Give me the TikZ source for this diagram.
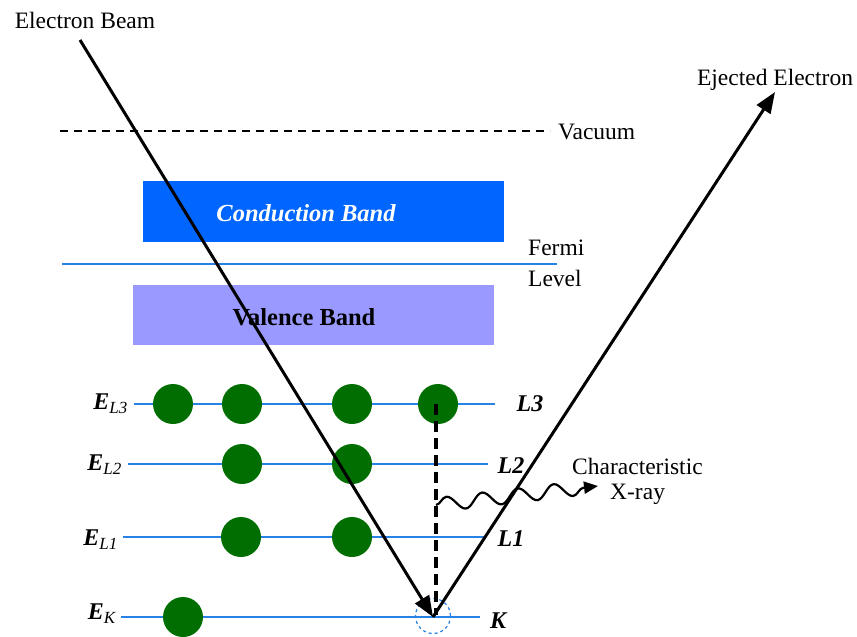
\documentclass[tikz,border=0pt]{standalone}
\usepackage{fontspec}
\setmainfont{Liberation Serif}
\usetikzlibrary{arrows.meta,decorations.pathmorphing}
\definecolor{condblue}{RGB}{0,102,255}
\definecolor{valblue}{RGB}{153,153,255}
\definecolor{lvlblue}{RGB}{40,130,230}
\definecolor{egreen}{RGB}{0,110,0}
\tikzset{
  txt/.style={font=\fontsize{23.5}{26}\selectfont, inner sep=0pt},
  lbl/.style={font=\fontsize{24}{26}\selectfont\bfseries\itshape, inner sep=0pt},
  level/.style={draw=lvlblue, line width=1.5pt},
  electron/.style={circle, fill=egreen, minimum size=40pt, inner sep=0pt},
  band/.style={inner sep=0pt, anchor=north west},
  ray/.style={line width=3pt, -{Triangle[length=21pt,width=16pt]}},
}
\begin{document}
\begin{tikzpicture}[x=1pt,y=-1pt]
\useasboundingbox (0,0) rectangle (857,637);
% bands
\node[band, fill=condblue, minimum width=361pt, minimum height=61pt] (cb) at (143,181) {};
\node[font=\fontsize{24.5}{26}\selectfont\bfseries\itshape, text=white] (cbt) at (306,213) {Conduction Band};
\node[band, fill=valblue, minimum width=361pt, minimum height=60pt] (vb) at (133,285) {};
\node[font=\fontsize{24.5}{26}\selectfont\bfseries] (vbt) at (304,317) {Valence Band};
% vacuum and Fermi
\coordinate (vacL) at (60,131);
\coordinate (vacR) at (550,131);
\draw[black, line width=2pt, dash pattern=on 8pt off 6pt] (vacL) -- (vacR);
\node[txt, anchor=west] (vac) at (558,132) {Vacuum};
\coordinate (ferL) at (62,264);
\coordinate (ferR) at (557,264);
\draw[level] (ferL) -- (ferR);
\node[txt, anchor=west] (fermi) at (528,248) {Fermi};
\node[txt, anchor=west] (flevel) at (528,278) {Level};
% levels
\coordinate (l3a) at (134,404); \coordinate (l3b) at (495,404);
\coordinate (l2a) at (128,464); \coordinate (l2b) at (488,464);
\coordinate (l1a) at (123,537); \coordinate (l1b) at (485,537);
\coordinate (ka) at (121,617);  \coordinate (kb) at (480,617);
\draw[level] (l3a) -- (l3b);
\draw[level] (l2a) -- (l2b);
\draw[level] (l1a) -- (l1b);
\draw[level] (ka) -- (kb);
\node[lbl, anchor=east] (el3) at (128,404) {E\textsubscript{\normalfont\itshape\fontsize{17}{18}\selectfont L3}};
\node[lbl, anchor=east] (el2) at (122,465) {E\textsubscript{\normalfont\itshape\fontsize{17}{18}\selectfont L2}};
\node[lbl, anchor=east] (el1) at (118,540) {E\textsubscript{\normalfont\itshape\fontsize{17}{18}\selectfont L1}};
\node[lbl, anchor=east] (ek) at (116,614) {E\textsubscript{\normalfont\itshape\fontsize{17}{18}\selectfont K}};
\node[lbl] (tl3) at (530,404) {L3};
\node[lbl] (tl2) at (511,466) {L2};
\node[lbl] (tl1) at (511,539) {L1};
\node[lbl] (tk) at (498,621) {K};
% electrons
\node[electron] (a1) at (173,404) {};
\node[electron] (a2) at (242,404) {};
\node[electron] (a3) at (352,404) {};
\node[electron] (a4) at (438,404) {};
\node[electron] (b1) at (242,464) {};
\node[electron] (b2) at (352,464) {};
\node[electron] (c1) at (241,537) {};
\node[electron] (c2) at (352,537) {};
\node[electron] (d1) at (183,617) {};
% hole
\node[circle, draw=lvlblue, dashed, line width=1.2pt, minimum size=35pt, inner sep=0pt] (hole) at (433,616) {};
% transition
\coordinate (dtop) at (436,404);
\coordinate (dbot) at (436,615);
\draw[black, line width=3.5pt, dash pattern=on 11pt off 6pt] (dtop) -- (dbot);
% x-ray
\coordinate (xs) at (436,505);
\coordinate (xe) at (598,486);
\draw[black, line width=2.2pt, -{Triangle[length=14pt,width=12pt]},
  decorate, decoration={snake, amplitude=7pt, segment length=36pt, post length=8pt}] (xs) -- (xe);
\node[txt, anchor=west] (char) at (572,466) {Characteristic};
\node[txt, anchor=west] (xray) at (610,494) {X-ray};
% beams
\coordinate (bs) at (80,40);
\coordinate (kpt) at (433,617);
\coordinate (ee) at (775,92);
\draw[ray] (bs) -- (kpt);
\draw[ray] (kpt) -- (ee);
\node[txt] (beam) at (85,20) {Electron Beam};
\node[txt] (eject) at (775,80) {Ejected Electron};
\end{tikzpicture}
\end{document}
